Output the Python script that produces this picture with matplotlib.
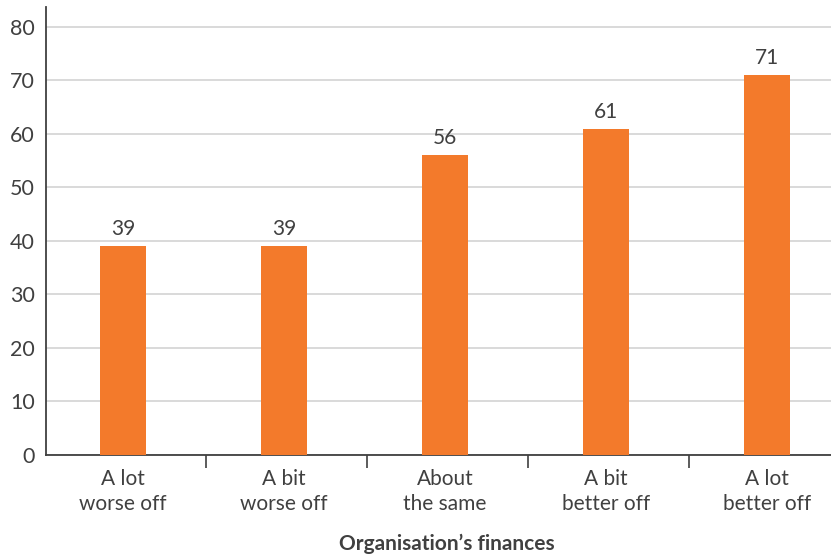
import matplotlib
matplotlib.use("Agg")
import matplotlib.pyplot as plt
import numpy as np

categories = ["A lot\nworse off", "A bit\nworse off", "About\nthe same", "A bit\nbetter off", "A lot\nbetter off"]
values = [39, 39, 56, 61, 71]
y_ticks = [0, 10, 20, 30, 40, 50, 60, 70, 80]
x_title = "Organisation\u2019s finances"

BAR = "#F37A2B"
TEXT = "#404040"
GRID = "#D3D3D3"

plt.rcParams["font.family"] = ["Lato", "DejaVu Sans"]

fig = plt.figure(figsize=(8.31, 5.58), dpi=100)
W, H = 831, 558
ax = fig.add_axes([46 / W, 103 / H, (W - 46) / W, 448 / H])

x = np.arange(len(categories))
ax.bar(x, values, width=0.286, color=BAR, zorder=3)

for xi, v in zip(x, values):
    ax.annotate(str(v), (xi, v), xytext=(0, 5), textcoords="offset points",
                ha="center", va="bottom", fontsize=15, color=TEXT)

ax.set_xlim(-0.478, 4.398)
ax.set_ylim(0, 83.7)
ax.set_yticks(y_ticks)
ax.set_yticklabels([str(t) for t in y_ticks], fontsize=15.5, color=TEXT)
ax.tick_params(axis="y", length=0, pad=8)

ax.set_xticks(x)
ax.set_xticklabels(categories, fontsize=15, color=TEXT, linespacing=1.3)
ax.tick_params(axis="x", which="major", length=0, pad=10)
ax.set_xticks(np.arange(0.515, len(categories) - 0.5, 1.0), minor=True)
ax.tick_params(axis="x", which="minor", length=9, width=1.2, color=TEXT, direction="out")

ax.grid(axis="y", color=GRID, linewidth=1.2, zorder=0)
ax.set_axisbelow(True)

for side in ["top", "right"]:
    ax.spines[side].set_visible(False)
for side in ["left", "bottom"]:
    ax.spines[side].set_color(TEXT)
    ax.spines[side].set_linewidth(1.3)

fig.text(447 / W, 1 - 544 / H, x_title, ha="center", va="center",
         fontsize=15, fontweight="bold", color=TEXT)

fig.savefig("out.png", dpi=100)
